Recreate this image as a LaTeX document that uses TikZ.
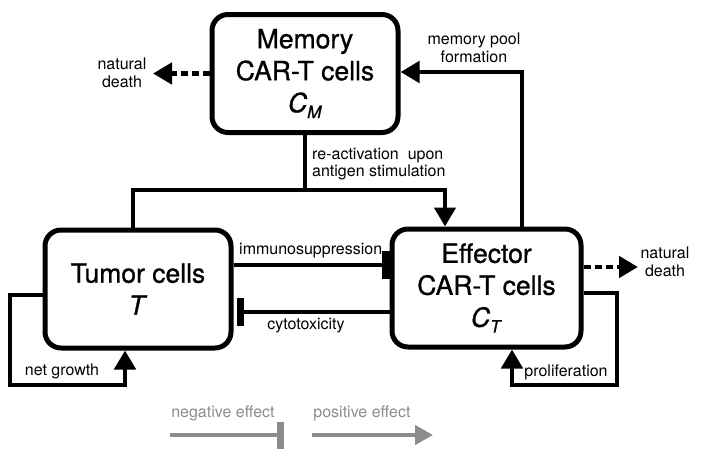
\documentclass[tikz,border=0pt]{standalone}
\usepackage{fontspec}
\setmainfont{TeX Gyre Heros}
\newfontfamily\boxfont{TeX Gyre Heros}[FakeBold=1.0]
\usetikzlibrary{arrows.meta}
\definecolor{legendgray}{HTML}{8C8C8C}
\newcommand{\subit}[2]{\textit{#1}\raisebox{-0.22em}{\fontsize{17}{17}\selectfont\textit{#2}}}
\begin{document}
\begin{tikzpicture}[x=1pt,y=-1pt,
 box/.style={draw,line width=5pt,rounded corners=16pt,minimum width=186pt,minimum height=118pt,inner sep=0pt,align=center,font=\boxfont\fontsize{26.5}{32}\selectfont},
 link/.style={line width=4.8pt},
 posarrow/.style={link,-{Triangle[length=19pt,width=21pt]}},
 negarrow/.style={link,-{Bar[width=28pt,line width=7.5pt]}},
 deatharrow/.style={posarrow,dash pattern=on 7pt off 4pt},
 lbl/.style={font=\fontsize{16}{17.5}\selectfont,align=center,inner sep=0pt},
 leg/.style={lbl,text=legendgray}
]
\useasboundingbox (0,0) rectangle (701,458);

% boxes
\node[box] (mem) at (305,73.5) {Memory\\CAR-T cells\\\subit{C}{M}};
\node[box] (tum) at (138,289) {Tumor cells\\\textit{T}};
\node[box,minimum width=189pt] (eff) at (486.5,288) {Effector\\CAR-T cells\\\subit{C}{T}};

% natural death (memory)
\coordinate (mdeath) at (153,73.5);
\draw[deatharrow] (mem.west) -- (mdeath);
\node[lbl] (mdl) at (122,73) {natural\\death};

% re-activation upon antigen stimulation
\coordinate (junc) at (305,190);
\coordinate (tleg) at (133,190);
\coordinate (eleg) at (445,190);
\draw[link] (mem.south) -- (junc);
\draw[posarrow] (tum.north -| tleg) -- (tleg) -- (eleg) -- (eff.north -| eleg);
\node[lbl,align=left,anchor=west] (ral) at (312,164) {re-activation\ \ upon\\antigen stimulation};

% memory pool formation
\coordinate (mpc) at (522,72);
\draw[posarrow] (eff.north -| mpc) -- (mpc) -- (mem.east |- mpc);
\node[lbl] (mpl) at (474,48) {memory pool\\formation};

% immunosuppression
\coordinate (imy) at (0,265);
\draw[negarrow] (tum.east |- imy) -- (eff.west |- imy);
\node[lbl,anchor=west] (iml) at (239,251) {immunosuppression};

% cytotoxicity
\coordinate (cyy) at (0,312);
\draw[negarrow,shorten >=3pt] (eff.west |- cyy) -- (tum.east |- cyy);
\node[lbl] (cyl) at (306,326) {cytotoxicity};

% net growth
\coordinate (ng1) at (10,295);
\coordinate (ng2) at (10,385);
\coordinate (ng3) at (125,385);
\draw[posarrow] (tum.west |- ng1) -- (ng1) -- (ng2) -- (ng3) -- (tum.south -| ng3);
\node[lbl] (ngl) at (62,371) {net growth};

% effector natural death
\coordinate (edeath) at (638,267);
\draw[deatharrow] (eff.east |- edeath) -- (edeath);
\node[lbl] (edl) at (665,262) {natural\\death};

% proliferation
\coordinate (pr1) at (617,293);
\coordinate (pr2) at (617,385);
\coordinate (pr3) at (512,385);
\draw[posarrow] (eff.east |- pr1) -- (pr1) -- (pr2) -- (pr3) -- (eff.south -| pr3);
\node[lbl] (prl) at (566,372) {proliferation};

% legend
\node[leg] (negl) at (223,413) {negative effect};
\node[leg] (posl) at (362,413) {positive effect};
\coordinate (ln1) at (170,435);
\coordinate (ln2) at (284,435);
\coordinate (lp1) at (312,435);
\coordinate (lp2) at (433,435);
\draw[line width=4pt,legendgray,-{Bar[width=27pt,line width=7pt]}] (ln1) -- (ln2);
\draw[line width=4pt,legendgray,-{Triangle[length=18pt,width=19pt]}] (lp1) -- (lp2);
\end{tikzpicture}
\end{document}
